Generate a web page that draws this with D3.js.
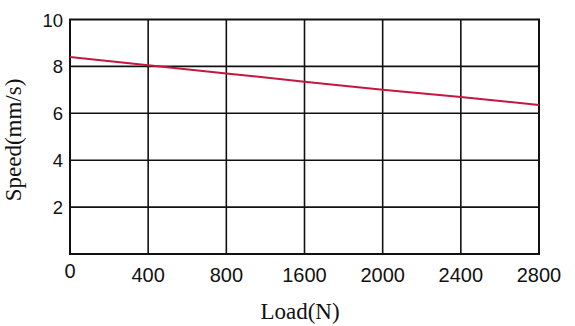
<!DOCTYPE html>
<html>
<head>
<meta charset="utf-8">
<script src="https://cdn.jsdelivr.net/npm/d3@7"></script>
<style>
  body { margin: 0; background: #fff; }
  svg { display: block; }
</style>
</head>
<body>
<svg id="chart"></svg>
<script>
// load categories (not evenly spaced in value, drawn as equal steps)
const loads = ['0', '400', '800', '1600', '2000', '2400', '2800'];
const speeds = [8.4, 8.05, 7.7, 7.35, 7.0, 6.7, 6.35];
const yTicks = [2, 4, 6, 8, 10];

const W = 575, H = 326;
const margin = { top: 19.5, right: 36, bottom: 72, left: 70 };

const svg = d3.select('#chart').attr('width', W).attr('height', H);

const x = d3.scalePoint()
    .domain(loads)
    .range([margin.left, W - margin.right]);

const y = d3.scaleLinear()
    .domain([0, 10])
    .range([H - margin.bottom, margin.top]);

const g = svg.append('g');

// grid
g.append('g').selectAll('line')
    .data(loads.slice(1, -1))
    .enter().append('line')
    .attr('x1', d => x(d)).attr('x2', d => x(d))
    .attr('y1', y(0)).attr('y2', y(10))
    .attr('stroke', '#111').attr('stroke-width', 1.6);

g.append('g').selectAll('line')
    .data(yTicks.slice(0, -1))
    .enter().append('line')
    .attr('x1', x.range()[0]).attr('x2', x.range()[1])
    .attr('y1', d => y(d)).attr('y2', d => y(d))
    .attr('stroke', '#111').attr('stroke-width', 1.6);

// frame
g.append('rect')
    .attr('x', x.range()[0]).attr('y', y(10))
    .attr('width', x.range()[1] - x.range()[0])
    .attr('height', y(0) - y(10))
    .attr('fill', 'none').attr('stroke', '#111').attr('stroke-width', 2);

// line
const line = d3.line()
    .x((d, i) => x(loads[i]))
    .y(d => y(d));

g.append('path')
    .datum(speeds)
    .attr('d', line)
    .attr('fill', 'none')
    .attr('stroke', '#c5173f')
    .attr('stroke-width', 2);

// tick labels
const tickFont = 'Liberation Sans, Arial, sans-serif';
g.append('g').selectAll('text')
    .data(loads)
    .enter().append('text')
    .attr('x', d => x(d))
    .attr('y', d => d === '0' ? y(0) + 24 : y(0) + 28)
    .attr('text-anchor', 'middle')
    .attr('font-family', tickFont)
    .attr('font-size', 20)
    .attr('fill', '#111')
    .text(d => d);

g.append('g').selectAll('text')
    .data(yTicks)
    .enter().append('text')
    .attr('x', margin.left - 7)
    .attr('y', d => y(d) + 7)
    .attr('text-anchor', 'end')
    .attr('font-family', tickFont)
    .attr('font-size', 18.5)
    .attr('fill', '#111')
    .text(d => d);

// axis titles
const titleFont = 'Liberation Serif, Times New Roman, serif';
svg.append('text')
    .attr('x', 300).attr('y', 319)
    .attr('text-anchor', 'middle')
    .attr('font-family', titleFont)
    .attr('font-size', 23)
    .attr('fill', '#111')
    .text('Load(N)');

svg.append('text')
    .attr('transform', 'translate(21,140) rotate(-90)')
    .attr('text-anchor', 'middle')
    .attr('font-family', titleFont)
    .attr('font-size', 23)
    .attr('fill', '#111')
    .text('Speed(mm/s)');
</script>
</body>
</html>
